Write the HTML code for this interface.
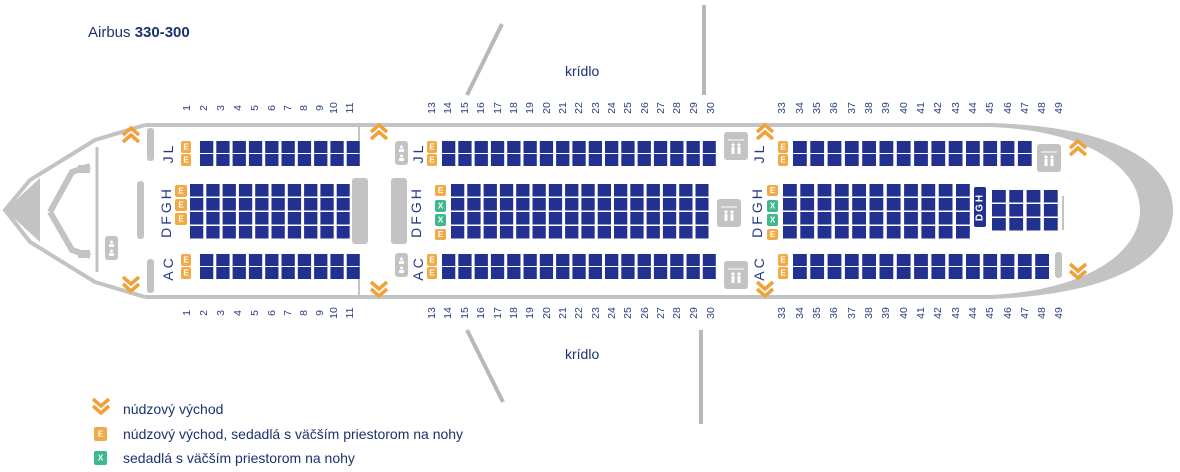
<!DOCTYPE html>
<html><head><meta charset="utf-8"><style>
html,body{margin:0;padding:0;background:#fff;}
svg{display:block;font-family:"Liberation Sans",sans-serif;}
.n{font-size:10.5px;fill:#2b3f7f;text-anchor:middle;dominant-baseline:central;}
.l{font-size:14px;fill:#233a82;text-anchor:middle;dominant-baseline:central;letter-spacing:3px;}
.e{font-size:8px;fill:#fff;text-anchor:middle;dominant-baseline:central;font-weight:bold;}
.t{font-size:14px;fill:#1b3270;}
.a line{stroke:#22318f;stroke-width:12;stroke-dasharray:13.3 3;}
.b line{stroke:#22318f;stroke-width:12.5;stroke-dasharray:13.3 3;}
.c line{stroke:#22318f;stroke-width:12;stroke-dasharray:13.8 3.5;}
.d line{stroke:#22318f;stroke-width:12.5;stroke-dasharray:13.8 3.5;}
</style></head><body>
<svg width="1180" height="472" viewBox="0 0 1180 472" xmlns="http://www.w3.org/2000/svg">
<defs>
<g id="up"><polyline points="-8,3 0,-4 8,3" fill="none" stroke="#f0a23a" stroke-width="3.5"/><polyline points="-8,10 0,3 8,10" fill="none" stroke="#f0a23a" stroke-width="3.5"/></g>
<g id="dn"><polyline points="-8,-10 0,-3 8,-10" fill="none" stroke="#f0a23a" stroke-width="3.5"/><polyline points="-8,-3 0,4 8,-3" fill="none" stroke="#f0a23a" stroke-width="3.5"/></g>
<g id="lav"><rect x="0" y="0" width="24" height="28" rx="3" fill="#c3c3c3"/><line x1="4" y1="8" x2="20" y2="8" stroke="#fff"/><circle cx="9" cy="13" r="1.6" fill="#fff"/><rect x="7.5" y="15" width="3" height="7" fill="#fff"/><circle cx="15" cy="13" r="1.6" fill="#fff"/><rect x="13.5" y="15" width="3" height="7" fill="#fff"/></g>
<g id="lavs"><rect x="0" y="0" width="13" height="24" rx="3" fill="#c3c3c3"/><circle cx="6.5" cy="6" r="1.5" fill="#fff"/><rect x="4" y="8" width="5" height="3" fill="#fff"/><circle cx="6.5" cy="15" r="1.5" fill="#fff"/><rect x="4" y="17" width="5" height="3" fill="#fff"/></g>
</defs>

<text x="88" y="37" style="font-size:15px;fill:#1b3270">Airbus <tspan font-weight="bold">330-300</tspan></text>
<text x="565" y="76" class="t">krídlo</text>
<text x="565" y="359" class="t">krídlo</text>
<line x1="502" y1="24" x2="467" y2="95" stroke="#b8b8b8" stroke-width="4"/>
<line x1="704" y1="5" x2="704" y2="95" stroke="#b8b8b8" stroke-width="4"/>
<line x1="467" y1="330" x2="503" y2="402" stroke="#b8b8b8" stroke-width="4"/>
<line x1="701" y1="330" x2="701" y2="424" stroke="#b8b8b8" stroke-width="4"/>

<!-- fuselage -->
<line x1="145" y1="125" x2="995" y2="125" stroke="#c3c3c3" stroke-width="4"/>
<line x1="145" y1="297" x2="995" y2="297" stroke="#c3c3c3" stroke-width="4"/>
<path d="M990,123 C1110,126 1173,160 1173,210 C1173,260 1110,295 990,299 L990,295 C1080,291 1140,256 1140,210 C1140,164 1080,130 990,127 Z" fill="#c3c3c3"/>
<polyline points="145,125 95,140 30,180 5,210 30,242 95,282 145,297" fill="none" stroke="#c3c3c3" stroke-width="4"/>
<path d="M5,210 L40,178 L40,242 Z" fill="#c3c3c3"/>
<line x1="97" y1="147" x2="97" y2="272" stroke="#c3c3c3" stroke-width="3"/>
<path d="M50,212 L72,172 L90,166 M50,212 L72,250 L90,256" fill="none" stroke="#c3c3c3" stroke-width="6"/>
<rect x="78" y="165" width="12" height="8" fill="#c3c3c3"/>
<rect x="78" y="250" width="12" height="8" fill="#c3c3c3"/>
<use href="#lavs" x="105" y="236"/>
<rect x="147" y="128" width="7" height="33" rx="3" fill="#c3c3c3"/>
<rect x="147" y="259" width="7" height="34" rx="3" fill="#c3c3c3"/>
<rect x="137" y="181" width="7" height="58" rx="3" fill="#c3c3c3"/>
<rect x="352" y="178" width="16" height="66" rx="3" fill="#c3c3c3"/>
<line x1="359" y1="127" x2="359" y2="166" stroke="#c3c3c3" stroke-width="2"/>
<line x1="359" y1="254" x2="359" y2="295" stroke="#c3c3c3" stroke-width="2"/>
<rect x="391" y="178" width="16" height="66" rx="3" fill="#c3c3c3"/>
<use href="#lavs" x="395" y="141"/>
<use href="#lavs" x="395" y="253"/>
<use href="#lav" x="724" y="132"/>
<use href="#lav" x="717" y="199"/>
<use href="#lav" x="724" y="261"/>
<use href="#lav" x="1037" y="144"/>
<line x1="1063" y1="196" x2="1063" y2="230" stroke="#c3c3c3" stroke-width="2"/>
<rect x="1055" y="252" width="7" height="26" rx="3" fill="#c3c3c3"/>

<use href="#up" x="131" y="132"/><use href="#dn" x="131" y="287"/>
<use href="#up" x="379" y="129"/><use href="#dn" x="379" y="292"/>
<use href="#up" x="765" y="129"/><use href="#dn" x="765" y="292"/>
<use href="#up" x="1078" y="145"/><use href="#dn" x="1078" y="274"/>

<!-- seats -->
<g class="a">
<line x1="200" y1="147" x2="359.7" y2="147"/><line x1="200" y1="160" x2="359.7" y2="160"/>
<line x1="200" y1="260" x2="359.7" y2="260"/><line x1="200" y1="273" x2="359.7" y2="273"/>
<line x1="442" y1="147" x2="715.8" y2="147"/><line x1="442" y1="160" x2="715.8" y2="160"/>
<line x1="442" y1="260" x2="715.8" y2="260"/><line x1="442" y1="273" x2="715.8" y2="273"/>
</g>
<g class="b">
<line x1="190" y1="190.25" x2="349.7" y2="190.25"/><line x1="190" y1="204.25" x2="349.7" y2="204.25"/><line x1="190" y1="218.25" x2="349.7" y2="218.25"/><line x1="190" y1="232.25" x2="349.7" y2="232.25"/>
<line x1="451" y1="190.25" x2="708.5" y2="190.25"/><line x1="451" y1="204.25" x2="708.5" y2="204.25"/><line x1="451" y1="218.25" x2="708.5" y2="218.25"/><line x1="451" y1="232.25" x2="708.5" y2="232.25"/>
</g>
<g class="c">
<line x1="793" y1="147" x2="1031.7" y2="147"/><line x1="793" y1="160" x2="1031.7" y2="160"/>
<line x1="793" y1="260" x2="1049" y2="260"/><line x1="793" y1="273" x2="1049" y2="273"/>
</g>
<g class="d">
<line x1="783" y1="190.25" x2="969.8" y2="190.25"/><line x1="783" y1="204.25" x2="969.8" y2="204.25"/><line x1="783" y1="218.25" x2="969.8" y2="218.25"/><line x1="783" y1="232.25" x2="969.8" y2="232.25"/>
<line x1="992" y1="196.25" x2="1057.7" y2="196.25"/><line x1="992" y1="210.25" x2="1057.7" y2="210.25"/><line x1="992" y1="224.25" x2="1057.7" y2="224.25"/>
</g>
<rect x="974" y="187" width="12" height="40" rx="2" fill="#22318f"/>
<text transform="translate(980,207) rotate(-90)" class="e" style="font-size:10px;letter-spacing:2px">DGH</text>

<!-- E / X boxes -->
<g fill="#f2aa45">
<rect x="181" y="141" width="10" height="12" rx="2"/><rect x="181" y="154" width="10" height="12" rx="2"/>
<rect x="175" y="185" width="12" height="12" rx="2"/><rect x="175" y="199" width="12" height="12" rx="2"/><rect x="175" y="213" width="12" height="12" rx="2"/>
<rect x="181" y="254" width="10" height="12" rx="2"/><rect x="181" y="267" width="10" height="12" rx="2"/>
<rect x="427" y="141" width="10" height="12" rx="2"/><rect x="427" y="154" width="10" height="12" rx="2"/>
<rect x="427" y="254" width="10" height="12" rx="2"/><rect x="427" y="267" width="10" height="12" rx="2"/>
<rect x="435" y="185" width="11" height="11" rx="2"/><rect x="435" y="229" width="11" height="11" rx="2"/>
<rect x="778" y="141" width="10" height="12" rx="2"/><rect x="778" y="154" width="10" height="12" rx="2"/>
<rect x="778" y="254" width="10" height="12" rx="2"/><rect x="778" y="267" width="10" height="12" rx="2"/>
<rect x="767" y="185" width="11" height="11" rx="2"/><rect x="767" y="229" width="11" height="11" rx="2"/>
</g>
<g fill="#3db98d">
<rect x="435" y="200" width="11" height="12" rx="2"/><rect x="435" y="214" width="11" height="12" rx="2"/>
<rect x="767" y="200" width="11" height="12" rx="2"/><rect x="767" y="214" width="11" height="12" rx="2"/>
</g>
<g class="e">
<text x="186" y="147">E</text><text x="186" y="160">E</text>
<text x="181" y="191">E</text><text x="181" y="205">E</text><text x="181" y="219">E</text>
<text x="186" y="260">E</text><text x="186" y="273">E</text>
<text x="432" y="147">E</text><text x="432" y="160">E</text><text x="432" y="260">E</text><text x="432" y="273">E</text>
<text x="440.5" y="190.5">E</text><text x="440.5" y="206">X</text><text x="440.5" y="220">X</text><text x="440.5" y="234.5">E</text>
<text x="783" y="147">E</text><text x="783" y="160">E</text><text x="783" y="260">E</text><text x="783" y="273">E</text>
<text x="772.5" y="190.5">E</text><text x="772.5" y="206">X</text><text x="772.5" y="220">X</text><text x="772.5" y="234.5">E</text>
</g>

<!-- row letters -->
<text class="l" transform="translate(168,153) rotate(-90)">JL</text>
<text class="l" transform="translate(166,212) rotate(-90)">DFGH</text>
<text class="l" transform="translate(168,268) rotate(-90)">AC</text>
<text class="l" transform="translate(418,153) rotate(-90)">JL</text>
<text class="l" transform="translate(416,212) rotate(-90)">DFGH</text>
<text class="l" transform="translate(418,268) rotate(-90)">AC</text>
<text class="l" transform="translate(759,153) rotate(-90)">JL</text>
<text class="l" transform="translate(757,212) rotate(-90)">DFGH</text>
<text class="l" transform="translate(759,268) rotate(-90)">AC</text>

<!-- numbers top -->
<g class="n">
<text transform="translate(187,108) rotate(-90)">1</text><text transform="translate(204,108) rotate(-90)">2</text><text transform="translate(221,108) rotate(-90)">3</text><text transform="translate(238,108) rotate(-90)">4</text><text transform="translate(255,108) rotate(-90)">5</text><text transform="translate(272,108) rotate(-90)">6</text><text transform="translate(288,108) rotate(-90)">7</text><text transform="translate(304,108) rotate(-90)">8</text><text transform="translate(320,108) rotate(-90)">9</text><text transform="translate(334,108) rotate(-90)">10</text><text transform="translate(350,108) rotate(-90)">11</text>
<text transform="translate(432,108) rotate(-90)">13</text><text transform="translate(448,108) rotate(-90)">14</text><text transform="translate(465,108) rotate(-90)">15</text><text transform="translate(481,108) rotate(-90)">16</text><text transform="translate(498,108) rotate(-90)">17</text><text transform="translate(514,108) rotate(-90)">18</text><text transform="translate(530,108) rotate(-90)">19</text><text transform="translate(547,108) rotate(-90)">20</text><text transform="translate(563,108) rotate(-90)">21</text><text transform="translate(579,108) rotate(-90)">22</text><text transform="translate(596,108) rotate(-90)">23</text><text transform="translate(612,108) rotate(-90)">24</text><text transform="translate(628,108) rotate(-90)">25</text><text transform="translate(645,108) rotate(-90)">26</text><text transform="translate(661,108) rotate(-90)">27</text><text transform="translate(677,108) rotate(-90)">28</text><text transform="translate(694,108) rotate(-90)">29</text><text transform="translate(711,108) rotate(-90)">30</text>
<text transform="translate(782,108) rotate(-90)">33</text><text transform="translate(800,108) rotate(-90)">34</text><text transform="translate(817,108) rotate(-90)">35</text><text transform="translate(834,108) rotate(-90)">36</text><text transform="translate(852,108) rotate(-90)">37</text><text transform="translate(869,108) rotate(-90)">38</text><text transform="translate(886,108) rotate(-90)">39</text><text transform="translate(904,108) rotate(-90)">40</text><text transform="translate(921,108) rotate(-90)">41</text><text transform="translate(938,108) rotate(-90)">42</text><text transform="translate(956,108) rotate(-90)">43</text><text transform="translate(973,108) rotate(-90)">44</text><text transform="translate(990,108) rotate(-90)">45</text><text transform="translate(1008,108) rotate(-90)">46</text><text transform="translate(1025,108) rotate(-90)">47</text><text transform="translate(1042,108) rotate(-90)">48</text><text transform="translate(1059,108) rotate(-90)">49</text>
</g>
<g class="n">
<text transform="translate(187,313) rotate(-90)">1</text><text transform="translate(204,313) rotate(-90)">2</text><text transform="translate(221,313) rotate(-90)">3</text><text transform="translate(238,313) rotate(-90)">4</text><text transform="translate(255,313) rotate(-90)">5</text><text transform="translate(272,313) rotate(-90)">6</text><text transform="translate(288,313) rotate(-90)">7</text><text transform="translate(304,313) rotate(-90)">8</text><text transform="translate(320,313) rotate(-90)">9</text><text transform="translate(334,313) rotate(-90)">10</text><text transform="translate(350,313) rotate(-90)">11</text>
<text transform="translate(432,313) rotate(-90)">13</text><text transform="translate(448,313) rotate(-90)">14</text><text transform="translate(465,313) rotate(-90)">15</text><text transform="translate(481,313) rotate(-90)">16</text><text transform="translate(498,313) rotate(-90)">17</text><text transform="translate(514,313) rotate(-90)">18</text><text transform="translate(530,313) rotate(-90)">19</text><text transform="translate(547,313) rotate(-90)">20</text><text transform="translate(563,313) rotate(-90)">21</text><text transform="translate(579,313) rotate(-90)">22</text><text transform="translate(596,313) rotate(-90)">23</text><text transform="translate(612,313) rotate(-90)">24</text><text transform="translate(628,313) rotate(-90)">25</text><text transform="translate(645,313) rotate(-90)">26</text><text transform="translate(661,313) rotate(-90)">27</text><text transform="translate(677,313) rotate(-90)">28</text><text transform="translate(694,313) rotate(-90)">29</text><text transform="translate(711,313) rotate(-90)">30</text>
<text transform="translate(782,313) rotate(-90)">33</text><text transform="translate(800,313) rotate(-90)">34</text><text transform="translate(817,313) rotate(-90)">35</text><text transform="translate(834,313) rotate(-90)">36</text><text transform="translate(852,313) rotate(-90)">37</text><text transform="translate(869,313) rotate(-90)">38</text><text transform="translate(886,313) rotate(-90)">39</text><text transform="translate(904,313) rotate(-90)">40</text><text transform="translate(921,313) rotate(-90)">41</text><text transform="translate(938,313) rotate(-90)">42</text><text transform="translate(956,313) rotate(-90)">43</text><text transform="translate(973,313) rotate(-90)">44</text><text transform="translate(990,313) rotate(-90)">45</text><text transform="translate(1008,313) rotate(-90)">46</text><text transform="translate(1025,313) rotate(-90)">47</text><text transform="translate(1042,313) rotate(-90)">48</text><text transform="translate(1059,313) rotate(-90)">49</text>
</g>

<!-- legend -->
<use href="#dn" x="101" y="409"/>
<text x="123" y="414" class="t">núdzový východ</text>
<rect x="94" y="427" width="13" height="14" rx="2" fill="#f2aa45"/>
<text x="100.5" y="434" class="e">E</text>
<text x="123" y="439" class="t">núdzový východ, sedadlá s väčším priestorom na nohy</text>
<rect x="94" y="451" width="13" height="14" rx="2" fill="#3db98d"/>
<text x="100.5" y="458" class="e">X</text>
<text x="123" y="463" class="t">sedadlá s väčším priestorom na nohy</text>
</svg>
</body></html>
